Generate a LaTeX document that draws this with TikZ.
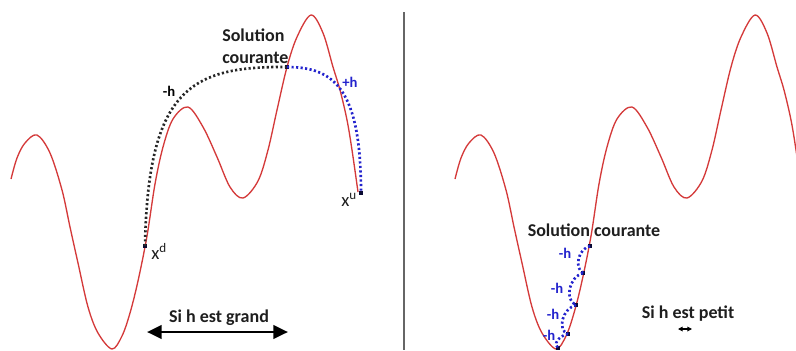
\documentclass[tikz,border=0pt]{standalone}
\usepackage{fontspec}
\setmainfont{Carlito}
\usetikzlibrary{arrows.meta}
\definecolor{wavered}{RGB}{212,58,58}
\definecolor{dotblue}{RGB}{35,35,205}
\definecolor{txt}{RGB}{30,30,30}
\definecolor{sq}{RGB}{10,10,50}
\begin{document}
\begin{tikzpicture}[x=0.75pt,y=-0.75pt,
  wave/.style={draw=wavered,line width=1pt,line join=round},
  blkdots/.style={draw=black!85,line width=2pt,dash pattern=on 1.6pt off 1.8pt},
  bludots/.style={draw=dotblue,line width=2pt,dash pattern=on 1.6pt off 1.8pt},
  sqmark/.style={rectangle,fill=sq,minimum size=3pt,inner sep=0pt},
  lbl/.style={inner sep=0pt,text=txt,font=\bfseries\fontsize{13.5}{16.5}\selectfont},
  hlbl/.style={inner sep=0pt,font=\bfseries\fontsize{11}{13}\selectfont},
  xlbl/.style={inner sep=0pt,text=txt,anchor=base west,font=\fontsize{14}{16}\selectfont},
  bigarrow/.style={draw=black,line width=2.2pt,{Triangle[length=11pt,width=10pt]}-{Triangle[length=11pt,width=10pt]}},
  smallarrow/.style={draw=black,line width=0.8pt,{Triangle[length=3.5pt,width=3.5pt]}-{Triangle[length=3.5pt,width=3.5pt]}},
  divider/.style={draw=black!60,line width=1.5pt}]
\useasboundingbox (0,0) rectangle (796,350);
\def\wavepts{(11,179) (17,158) (25,143) (37,135) (50,153) (62,190) (70,227) (78,263) (88,307) (98,333) (112,349) (122,336) (130,313) (138,281) (147,236) (155,184) (163,147) (173,119) (188,107) (203,127) (217,157) (230,187) (243,198) (258,181) (268,150) (277,110) (287,67) (297,37) (311,15) (323,33) (333,67) (340,90) (347,120) (352,150) (358,192)}
% left curve
\draw[wave] plot[smooth,tension=0.55] coordinates {\wavepts};
% right curve
\begin{scope}
\clip (406,0) rectangle (796,350);
\draw[wave,xshift=333pt] plot[smooth,tension=0.55] coordinates {\wavepts};
\end{scope}
% divider
\coordinate (dtop) at (404,12);
\coordinate (dbot) at (404,350);
\draw[divider] (dtop) -- (dbot);
% left panel
\node[sqmark] (xd) at (145,246) {};
\node[sqmark] (sol) at (287,67) {};
\node[sqmark] (xu) at (361,193) {};
\draw[blkdots] (xd.center) .. controls (148,90) and (190,66) .. (sol.center);
\draw[bludots] (sol.center) .. controls (335,67) and (361,90) .. (xu.center);
\node[lbl,align=left,anchor=west] (solL) at (222,46) {Solution\\courante};
\node[hlbl,text=black] (mh) at (169,91) {-h};
\node[hlbl,text=dotblue] (ph) at (350,82) {+h};
\node[xlbl] (xdl) at (151,259) {x\textsuperscript{d}};
\node[xlbl] (xul) at (341,206) {x\textsuperscript{u}};
\node[lbl] (grand) at (219,318) {Si h est grand};
\coordinate (ga) at (147,332);
\coordinate (gb) at (288,332);
\draw[bigarrow] (ga) -- (gb);
% right panel
\node[sqmark] (s1) at (590,246) {};
\node[sqmark] (s2) at (583,273) {};
\node[sqmark] (s3) at (576,305) {};
\node[sqmark] (s4) at (568,334) {};
\node[sqmark] (s5) at (558,348) {};
\draw[bludots] (s1.center) .. controls (578,249) and (574,268) .. (s2.center);
\draw[bludots] (s2.center) .. controls (569,277) and (564,300) .. (s3.center);
\draw[bludots] (s3.center) .. controls (562,309) and (557,330) .. (s4.center);
\draw[bludots] (s4.center) .. controls (558,336) and (553,345) .. (s5.center);
\node[lbl] (solR) at (594,230) {Solution courante};
\node[hlbl,text=dotblue] (h1) at (565,253) {-h};
\node[hlbl,text=dotblue] (h2) at (557,288) {-h};
\node[hlbl,text=dotblue] (h3) at (553,314) {-h};
\node[hlbl,text=dotblue] (h4) at (549,335) {-h};
\node[lbl] (petit) at (688,314) {Si h est petit};
\coordinate (pa) at (678,329);
\coordinate (pb) at (692,329);
\draw[smallarrow] (pa) -- (pb);
\end{tikzpicture}
\end{document}
